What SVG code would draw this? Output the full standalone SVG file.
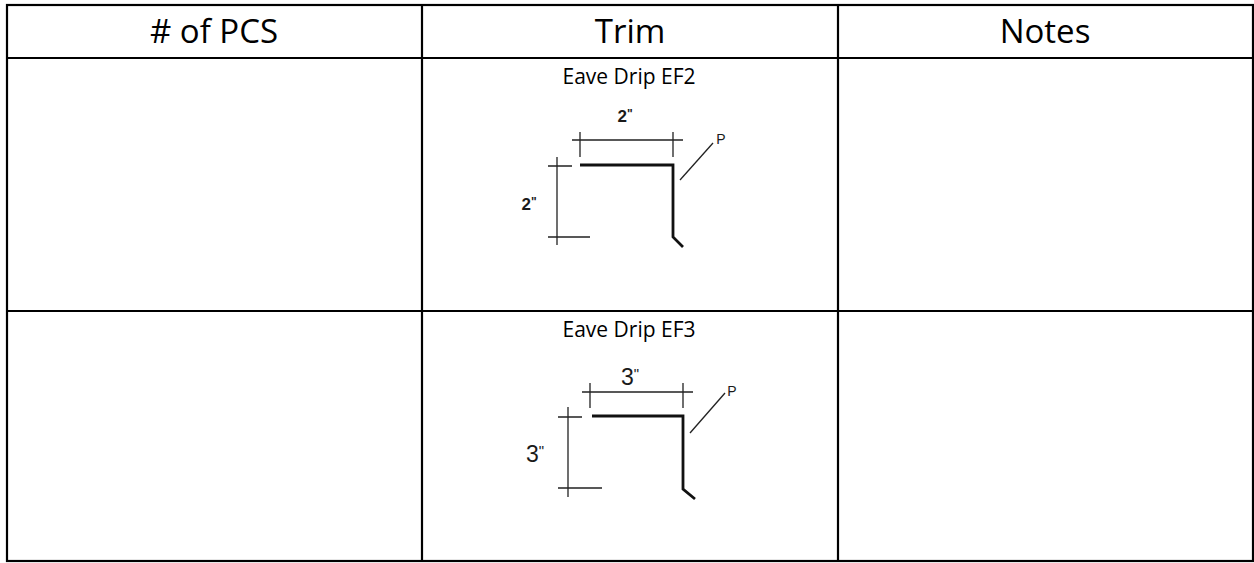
<svg xmlns="http://www.w3.org/2000/svg" width="1254" height="563" viewBox="0 0 1254 563">
<style>
.grid{stroke:#000;stroke-width:2.2;fill:none}
.hdr{font-family:"Open Sans","Liberation Sans",sans-serif;font-size:33px;fill:#000;text-anchor:middle}
.cap{font-family:"Open Sans","Liberation Sans",sans-serif;font-size:21px;fill:#000;text-anchor:middle}
.dim{stroke:#222;stroke-width:1.3;fill:none}
.prof{stroke:#111;stroke-width:2.8;fill:none;stroke-linejoin:miter}
.lbl{font-family:"Liberation Sans",Arial,sans-serif;fill:#1a1a1a;text-anchor:middle}
</style>
<rect width="1254" height="563" fill="#fff"/>
<g id="table">
<rect class="grid" x="7" y="5" width="1246" height="556"/>
<line class="grid" x1="7" y1="58" x2="1253" y2="58"/>
<line class="grid" x1="7" y1="311" x2="1253" y2="311"/>
<line class="grid" x1="422" y1="5" x2="422" y2="561"/>
<line class="grid" x1="838" y1="5" x2="838" y2="561"/>
</g>
<g id="header">
<text class="hdr" x="214" y="43"># of PCS</text>
<text class="hdr" x="630" y="43">Trim</text>
<text class="hdr" x="1045" y="43">Notes</text>
</g>
<g id="ef2">
<text class="cap" x="629" y="84">Eave Drip EF2</text>
<text class="lbl" x="625" y="122" font-size="17" font-weight="bold">2<tspan font-size="12" dy="-4">"</tspan></text>
<path class="dim" d="M572 140H683M580 132V157M673 132V157"/>
<path class="dim" d="M557 157V245M548 166H572M548 237H590"/>
<path class="prof" d="M580 165H673V237L683 247"/>
<text class="lbl" x="529" y="210" font-size="17" font-weight="bold">2<tspan font-size="12" dy="-4">"</tspan></text>
<line class="dim" x1="680" y1="180" x2="713" y2="143"/>
<text class="lbl" x="721" y="144" font-size="14">P</text>
</g>
<g id="ef3">
<text class="cap" x="629" y="337">Eave Drip EF3</text>
<text class="lbl" x="630" y="385" font-size="23">3<tspan font-size="15" dy="-6">"</tspan></text>
<path class="dim" d="M582 392H693M590 383V408M683 383V408"/>
<path class="dim" d="M568 407V497M558 417H582M558 488H602"/>
<path class="prof" d="M592 416H683V489L695 499"/>
<text class="lbl" x="535" y="462" font-size="23">3<tspan font-size="15" dy="-6">"</tspan></text>
<line class="dim" x1="690" y1="433" x2="725" y2="393"/>
<text class="lbl" x="732" y="396" font-size="14">P</text>
</g>
</svg>
